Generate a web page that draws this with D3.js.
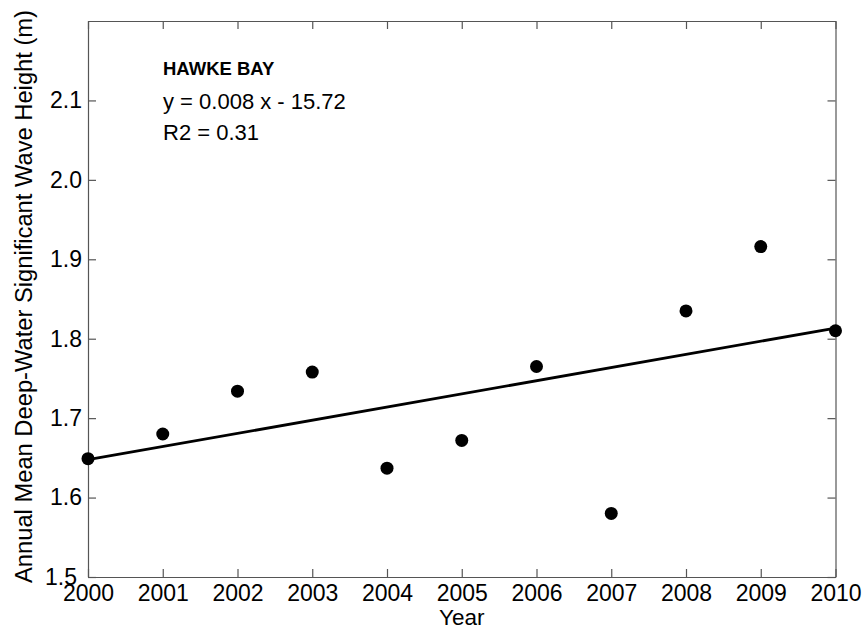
<!DOCTYPE html>
<html>
<head>
<meta charset="utf-8">
<script src="https://cdn.jsdelivr.net/npm/d3@7"></script>
<style>
  html, body { margin: 0; padding: 0; background: #fff; }
  svg { display: block; font-family: "Liberation Sans", Arial, sans-serif; }
</style>
</head>
<body>
<svg id="chart" width="864" height="629"></svg>
<script>
// Annual mean deep-water significant wave height, Hawke Bay
const years   = [2000, 2001, 2002, 2003, 2004, 2005, 2006, 2007, 2008, 2009, 2010];
const heights = [1.649, 1.680, 1.734, 1.758, 1.637, 1.672, 1.765, 1.580, 1.835, 1.916, 1.810];
const xTicks  = [2000, 2001, 2002, 2003, 2004, 2005, 2006, 2007, 2008, 2009, 2010];
const yTicks  = [1.5, 1.6, 1.7, 1.8, 1.9, 2.0, 2.1];
const noteLines = ["HAWKE BAY", "y = 0.008 x - 15.72", "R2 = 0.31"];

const svg = d3.select("#chart");
const plotLeft = 88, plotRight = 835.5, plotTop = 21, plotBottom = 577;

const x = d3.scaleLinear().domain([2000, 2010]).range([plotLeft, plotRight]);
const y = d3.scaleLinear().domain([1.5, 2.2]).range([plotBottom, plotTop]);

const axisColor = "#555";
const tickLen = 8;
const tickFont = "23px";

// Axes: ticks pointing inward on all four sides
const axB = d3.axisBottom(x).tickValues(xTicks).tickFormat(d3.format("d")).tickSizeInner(-tickLen).tickSizeOuter(0).tickPadding(8);
const axT = d3.axisTop(x).tickValues(xTicks).tickFormat("").tickSizeInner(-tickLen).tickSizeOuter(0);
const axL = d3.axisLeft(y).tickValues(yTicks).tickFormat(d3.format(".1f")).tickSizeInner(-tickLen).tickSizeOuter(0).tickPadding(6);
const axR = d3.axisRight(y).tickValues(yTicks).tickFormat("").tickSizeInner(-tickLen).tickSizeOuter(0);

function style(g) {
  g.selectAll("path.domain").attr("stroke", axisColor).attr("stroke-width", 1.2);
  g.selectAll(".tick line").attr("stroke", axisColor).attr("stroke-width", 1.2);
  g.selectAll(".tick text").attr("fill", "#000").style("font-size", tickFont).style("font-family", "Liberation Sans, Arial, sans-serif");
}

svg.append("g").attr("transform", `translate(0,${plotBottom})`).call(axB).call(style);
svg.append("g").attr("transform", `translate(0,${plotTop})`).call(axT).call(style);
const gLeft = svg.append("g").attr("transform", `translate(${plotLeft},0)`).call(axL).call(style);
svg.append("g").attr("transform", `translate(${plotRight},0)`).call(axR).call(style);

// the corner label sits a little further left, clear of the year labels
gLeft.selectAll(".tick text").filter(d => d === yTicks[0]).attr("dx", -5);

// Least-squares trend line through the annual values
const n = years.length;
const mx = d3.mean(years), my = d3.mean(heights);
const sxy = d3.sum(years, (v, i) => (v - mx) * (heights[i] - my));
const sxx = d3.sum(years, v => (v - mx) * (v - mx));
const slope = sxy / sxx, intercept = my - slope * mx;
const x0 = years[0], x1 = years[n - 1];

svg.append("line")
  .attr("x1", x(x0)).attr("y1", y(intercept + slope * x0))
  .attr("x2", x(x1)).attr("y2", y(intercept + slope * x1))
  .attr("stroke", "#000").attr("stroke-width", 2.8);

// Annual points
svg.append("g").selectAll("circle")
  .data(years)
  .join("circle")
  .attr("cx", d => x(d))
  .attr("cy", (d, i) => y(heights[i]))
  .attr("r", 6.5)
  .attr("fill", "#000");

// Annotation block
const note = svg.append("g").attr("transform", `translate(163,0)`);
note.append("text").attr("x", 0).attr("y", 75).text(noteLines[0])
  .style("font-size", "18.5px").style("font-weight", "bold");
note.append("text").attr("x", 0).attr("y", 109).text(noteLines[1])
  .style("font-size", "22px");
note.append("text").attr("x", 0).attr("y", 140).text(noteLines[2])
  .style("font-size", "22px");

// Axis titles
svg.append("text")
  .attr("x", (plotLeft + plotRight) / 2).attr("y", 625)
  .attr("text-anchor", "middle")
  .style("font-size", "22.5px")
  .text("Year");

svg.append("text")
  .attr("transform", `translate(32,296.5) rotate(-90)`)
  .attr("text-anchor", "middle")
  .attr("textLength", 573)
  .attr("lengthAdjust", "spacingAndGlyphs")
  .style("font-size", "23px")
  .text("Annual Mean Deep-Water Significant Wave Height (m)");
</script>
</body>
</html>
